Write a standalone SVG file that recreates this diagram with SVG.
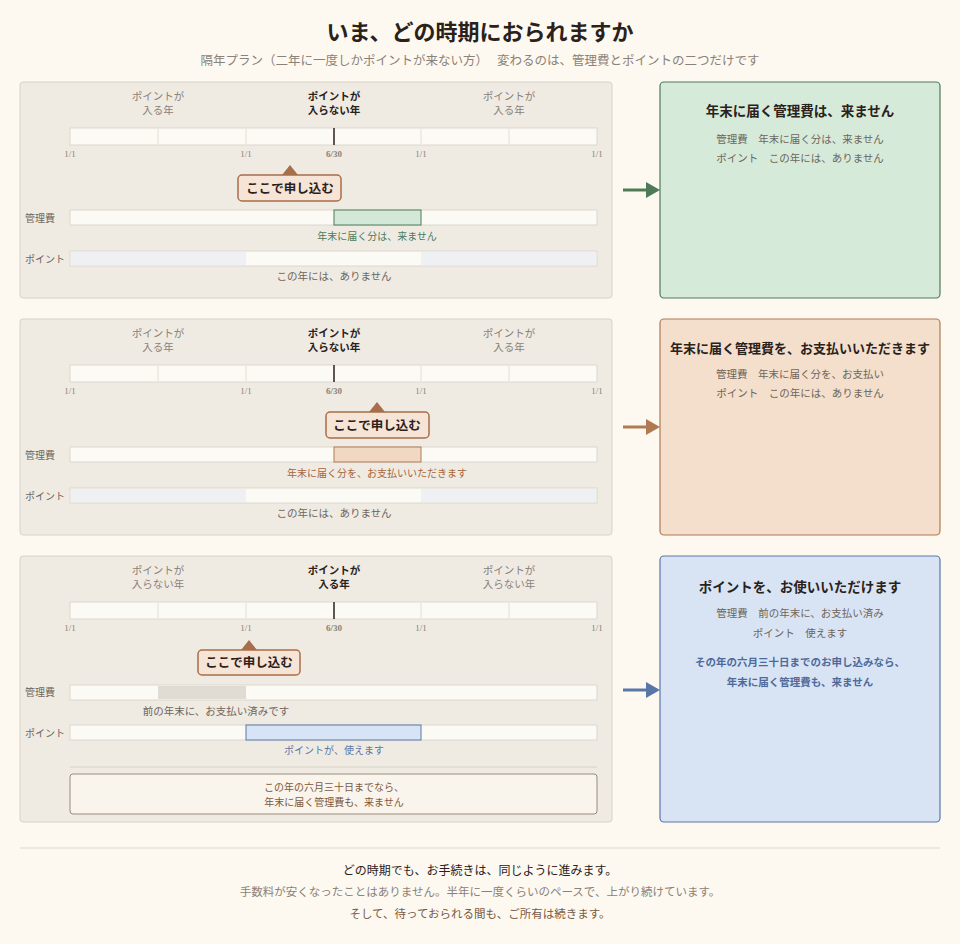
<svg xmlns="http://www.w3.org/2000/svg" width="960" height="944" viewBox="0 0 960 944">
<style>
text{font-family:"Noto Sans CJK JP","Noto Sans",sans-serif;}
.t{fill:#2a211b;font-weight:bold}
.g{fill:#8a8178}
.d{fill:#6e655c;font-size:10.5px}
.y{font-size:10.5px}
.pl{fill:#efebe3;stroke:#d8d2c7;stroke-width:1}
.bar{fill:#fcfaf5;stroke:#ddd8ce;stroke-width:1}
.tk{stroke:#e4dfd5;stroke-width:1}
.dt{font-family:"Liberation Serif",serif;font-size:9px;fill:#8a8178}
.call{fill:#f6e4d6;stroke:#a86e4a;stroke-width:1.5}
.cT{font-size:12.5px;font-weight:bold;fill:#2a211b}
.lab{font-size:10px;fill:#6e655c}
</style>
<rect width="960" height="944" fill="#fdf9f0"/>
<text x="480" y="40" text-anchor="middle" class="t" font-size="22">いま、どの時期におられますか</text>
<text x="480" y="65" text-anchor="middle" class="g" font-size="12.5">隔年プラン（二年に一度しかポイントが来ない方）　 変わるのは、管理費とポイントの二つだけです</text>

<defs>
<g id="axis">
<rect x="70" y="128" width="527" height="17" class="bar"/>
<line x1="158" y1="129" x2="158" y2="144" class="tk"/>
<line x1="246" y1="129" x2="246" y2="144" class="tk"/>
<line x1="421" y1="129" x2="421" y2="144" class="tk"/>
<line x1="509" y1="129" x2="509" y2="144" class="tk"/>
<line x1="334" y1="128" x2="334" y2="145" stroke="#2a211b" stroke-width="1.5"/>
<text x="70" y="157" text-anchor="middle" class="dt">1/1</text>
<text x="246" y="157" text-anchor="middle" class="dt">1/1</text>
<text x="334" y="157" text-anchor="middle" class="dt" font-weight="bold" fill="#2a211b">6/30</text>
<text x="421" y="157" text-anchor="middle" class="dt">1/1</text>
<text x="597" y="157" text-anchor="middle" class="dt">1/1</text>
<text x="25" y="222" class="lab">管理費</text>
<text x="25" y="263" class="lab">ポイント</text>
</g>
</defs>

<g id="panel1">
<rect x="20" y="82" width="592" height="216" rx="3" class="pl"/>
<text x="158" y="100" text-anchor="middle" class="g y">ポイントが</text>
<text x="158" y="114" text-anchor="middle" class="g y">入る年</text>
<text x="334" y="100" text-anchor="middle" class="t y">ポイントが</text>
<text x="334" y="114" text-anchor="middle" class="t y">入らない年</text>
<text x="509" y="100" text-anchor="middle" class="g y">ポイントが</text>
<text x="509" y="114" text-anchor="middle" class="g y">入る年</text>
<use href="#axis"/>
<polygon points="282,175 290,165 298,175" fill="#a86e4a"/>
<rect x="238" y="175" width="103" height="26" rx="4" class="call"/>
<text x="290" y="193" text-anchor="middle" class="cT">ここで申し込む</text>
<rect x="70" y="210" width="527" height="15" class="bar"/>
<rect x="334" y="210" width="87" height="15" fill="#d4e8d7" stroke="#4e7a58" stroke-width="1"/>
<text x="377" y="240" text-anchor="middle" font-size="10" fill="#4e7a58">年末に届く分は、来ません</text>
<rect x="70" y="251" width="527" height="15" class="bar"/>
<rect x="71" y="252" width="175" height="13" fill="#eef0f4"/>
<rect x="421" y="252" width="175" height="13" fill="#eef0f4"/>
<text x="334" y="280" text-anchor="middle" class="d" font-size="10">この年には、ありません</text>
</g>

<g id="panel2" transform="translate(0,237)">
<rect x="20" y="82" width="592" height="216" rx="3" class="pl"/>
<text x="158" y="100" text-anchor="middle" class="g y">ポイントが</text>
<text x="158" y="114" text-anchor="middle" class="g y">入る年</text>
<text x="334" y="100" text-anchor="middle" class="t y">ポイントが</text>
<text x="334" y="114" text-anchor="middle" class="t y">入らない年</text>
<text x="509" y="100" text-anchor="middle" class="g y">ポイントが</text>
<text x="509" y="114" text-anchor="middle" class="g y">入る年</text>
<use href="#axis"/>
<polygon points="369,175 377,165 385,175" fill="#a86e4a"/>
<rect x="326" y="175" width="103" height="26" rx="4" class="call"/>
<text x="377" y="193" text-anchor="middle" class="cT">ここで申し込む</text>
<rect x="70" y="210" width="527" height="15" class="bar"/>
<rect x="334" y="210" width="87" height="15" fill="#f1d8c3" stroke="#b07a52" stroke-width="1"/>
<text x="377" y="240" text-anchor="middle" font-size="10" fill="#a8643a">年末に届く分を、お支払いいただきます</text>
<rect x="70" y="251" width="527" height="15" class="bar"/>
<rect x="71" y="252" width="175" height="13" fill="#eef0f4"/>
<rect x="421" y="252" width="175" height="13" fill="#eef0f4"/>
<text x="334" y="280" text-anchor="middle" class="d" font-size="10">この年には、ありません</text>
</g>

<g id="panel3" transform="translate(0,474)">
<rect x="20" y="82" width="592" height="266" rx="3" class="pl"/>
<text x="158" y="100" text-anchor="middle" class="g y">ポイントが</text>
<text x="158" y="114" text-anchor="middle" class="g y">入らない年</text>
<text x="334" y="100" text-anchor="middle" class="t y">ポイントが</text>
<text x="334" y="114" text-anchor="middle" class="t y">入る年</text>
<text x="509" y="100" text-anchor="middle" class="g y">ポイントが</text>
<text x="509" y="114" text-anchor="middle" class="g y">入らない年</text>
<use href="#axis"/>
<polygon points="241,176 249,166 257,176" fill="#a86e4a"/>
<rect x="198" y="176" width="102" height="25" rx="4" class="call"/>
<text x="249" y="193" text-anchor="middle" class="cT">ここで申し込む</text>
<rect x="70" y="211" width="527" height="15" class="bar"/>
<rect x="158" y="212" width="88" height="13" fill="#e0dcd4"/>
<text x="216" y="241" text-anchor="middle" class="d" font-size="10">前の年末に、お支払い済みです</text>
<rect x="70" y="251" width="527" height="15" class="bar"/>
<rect x="246" y="251" width="175" height="15" fill="#d6e4f6" stroke="#5a76a8" stroke-width="1"/>
<text x="334" y="280" text-anchor="middle" font-size="10" fill="#5a76a8">ポイントが、使えます</text>
<line x1="70" y1="293" x2="597" y2="293" stroke="#d8d2c7"/>
<rect x="70" y="300" width="527" height="40" rx="3" fill="#f9f4ec" stroke="#9a8a7a" stroke-width="1"/>
<text x="334" y="317" text-anchor="middle" font-size="10" fill="#7a5a42">この年の六月三十日までなら、</text>
<text x="334" y="332" text-anchor="middle" font-size="10" fill="#7a5a42">年末に届く管理費も、来ません</text>
</g>

<g id="connectors">
<line x1="623" y1="190" x2="648" y2="190" stroke="#4e7a58" stroke-width="3"/>
<polygon points="646,182 660,190 646,198" fill="#4e7a58"/>
<line x1="623" y1="427" x2="648" y2="427" stroke="#b07a52" stroke-width="3"/>
<polygon points="646,419 660,427 646,435" fill="#b07a52"/>
<line x1="623" y1="690" x2="648" y2="690" stroke="#5a76a8" stroke-width="3"/>
<polygon points="646,682 660,690 646,698" fill="#5a76a8"/>
</g>

<g id="card1">
<rect x="660" y="82" width="280" height="216" rx="4" fill="#d6eada" stroke="#4e7a58" stroke-width="1.2"/>
<text x="800" y="116" text-anchor="middle" class="t" font-size="13.5">年末に届く管理費は、来ません</text>
<text x="800" y="143" text-anchor="middle" class="d">管理費　年末に届く分は、来ません</text>
<text x="800" y="162" text-anchor="middle" class="d">ポイント　この年には、ありません</text>
</g>
<g id="card2">
<rect x="660" y="319" width="280" height="216" rx="4" fill="#f3dfcb" stroke="#b07a52" stroke-width="1.2"/>
<text x="800" y="353" text-anchor="middle" class="t" font-size="13">年末に届く管理費を、お支払いいただきます</text>
<text x="800" y="378" text-anchor="middle" class="d">管理費　年末に届く分を、お支払い</text>
<text x="800" y="397" text-anchor="middle" class="d">ポイント　この年には、ありません</text>
</g>
<g id="card3">
<rect x="660" y="556" width="280" height="266" rx="4" fill="#d8e4f4" stroke="#5a76a8" stroke-width="1.2"/>
<text x="800" y="592" text-anchor="middle" class="t" font-size="13.5">ポイントを、お使いいただけます</text>
<text x="800" y="617" text-anchor="middle" class="d">管理費　前の年末に、お支払い済み</text>
<text x="800" y="637" text-anchor="middle" class="d">ポイント　使えます</text>
<text x="800" y="666" text-anchor="middle" font-size="10.5" font-weight="bold" fill="#4e6a9a">その年の六月三十日までのお申し込みなら、</text>
<text x="800" y="686" text-anchor="middle" font-size="10.5" font-weight="bold" fill="#4e6a9a">年末に届く管理費も、来ません</text>
</g>

<g id="footer">
<line x1="20" y1="848" x2="940" y2="848" stroke="#ddd6ca"/>
<text x="480" y="875" text-anchor="middle" font-size="12" fill="#2a211b">どの時期でも、お手続きは、同じように進みます。</text>
<text x="480" y="896" text-anchor="middle" class="g" font-size="11.5">手数料が安くなったことはありません。半年に一度くらいのペースで、上がり続けています。</text>
<text x="480" y="918" text-anchor="middle" font-size="11.5" fill="#7a5a42">そして、待っておられる間も、ご所有は続きます。</text>
</g>
</svg>
